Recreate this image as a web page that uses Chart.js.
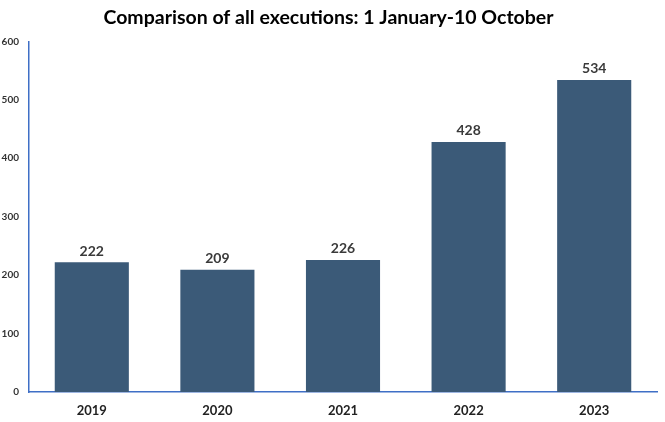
<!DOCTYPE html>
<html>
<head>
<meta charset="utf-8">
<script src="https://cdn.jsdelivr.net/npm/chart.js@4"></script>
<style>
  html, body { margin: 0; padding: 0; background: #fff; }
  #wrap { width: 665px; height: 422px; }
</style>
</head>
<body>
<div id="wrap"><canvas id="myChart"></canvas></div>
<script>
const years = ['2019', '2020', '2021', '2022', '2023'];
const executions = [222, 209, 226, 428, 534];
const yTicks = [0, 100, 200, 300, 400, 500, 600];

// draw the numbers above each bar
const barLabels = {
    id: 'barLabels',
    afterDatasetsDraw(chart) {
        const c = chart.ctx;
        const meta = chart.getDatasetMeta(0);
        c.save();
        c.font = 'bold 14px Lato';
        c.fillStyle = '#3a3a3a';
        c.textAlign = 'center';
        c.textBaseline = 'bottom';
        meta.data.forEach((bar, i) => {
            c.fillText(executions[i], bar.x, bar.y - 4);
        });
        c.restore();
    }
};

const ctx = document.getElementById('myChart').getContext('2d');

new Chart(ctx, {
    type: 'bar',
    data: {
        labels: years,
        datasets: [
            {
                label: 'Executions',
                data: executions,
                backgroundColor: '#3b5a78',
                categoryPercentage: 1.0,
                barPercentage: 0.59,
            }
        ]
    },
    options: {
        responsive: true,
        maintainAspectRatio: false,
        animation: false,
        layout: { padding: { top: 6, right: 8, left: 0, bottom: 0 } },
        plugins: {
            legend: { display: false },
            tooltip: { enabled: false },
            title: {
                display: true,
                text: 'Comparison of all executions: 1 January-10 October',
                color: '#000',
                font: { family: 'Lato', size: 19.5, weight: 'bold' },
                padding: { top: 0, bottom: 12 }
            }
        },
        scales: {
            x: {
                grid: { display: false, drawTicks: false },
                border: { color: '#3f6fc6', width: 1.5 },
                ticks: {
                    color: '#222',
                    font: { family: 'Lato', size: 13, weight: 'bold' },
                    padding: 11
                },
                afterFit: (axis) => { axis.height = 30; }
            },
            y: {
                min: 0,
                max: 600,
                afterBuildTicks: (axis) => { axis.ticks = yTicks.map(v => ({ value: v })); },
                grid: { display: false, drawTicks: false },
                border: { color: '#3f6fc6', width: 1.5 },
                ticks: {
                    color: '#333',
                    font: { family: 'Lato', size: 10, weight: 'bold' },
                    padding: 10
                },
                afterFit: (axis) => { axis.width = 29; }
            }
        }
    },
    plugins: [barLabels]
});
</script>
</body>
</html>
